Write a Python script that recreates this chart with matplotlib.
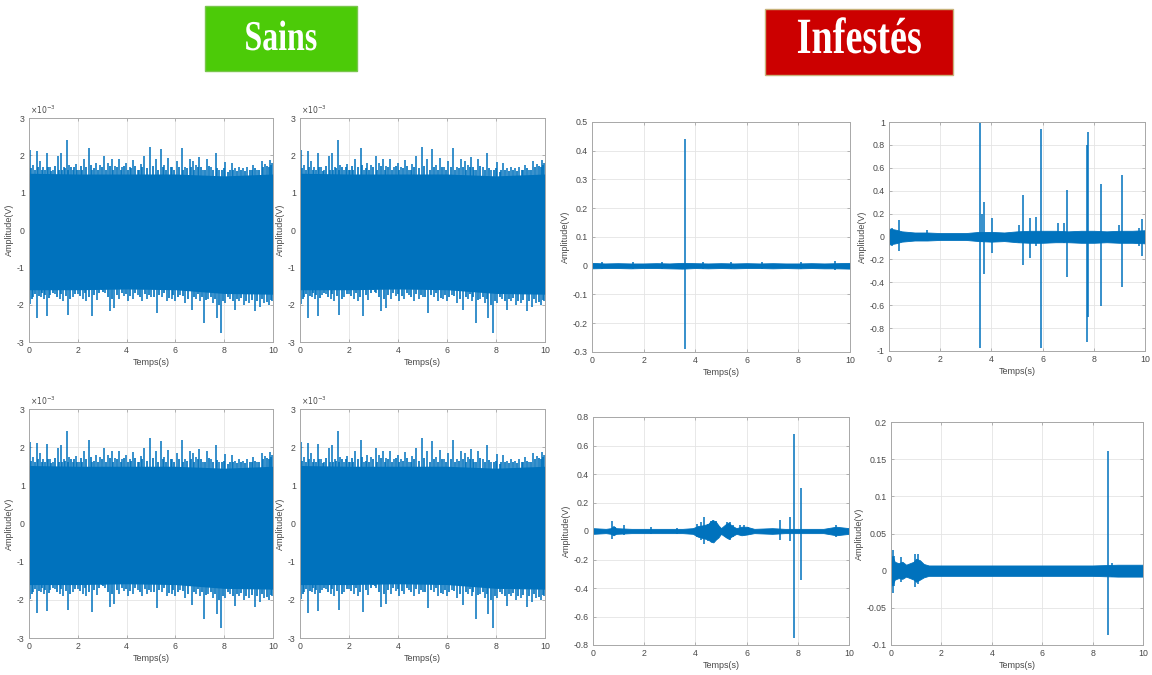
import matplotlib
matplotlib.use("Agg")
import matplotlib.pyplot as plt
from matplotlib import patheffects
from matplotlib.transforms import Affine2D
from matplotlib.patches import Rectangle
from matplotlib.ticker import FuncFormatter

plt.rcParams["font.family"] = ["Liberation Sans", "DejaVu Sans"]
plt.rcParams["axes.unicode_minus"] = False

W, H = 1152, 675
BLUE = "#0072BD"

# ---------------- healthy recordings (amplitude in 1e-3 V) ----------------
sain_core_t = [0, 2, 4, 6, 8, 10]
sain_core_hi = [1.52, 1.5, 1.5, 1.5, 1.45, 1.5]
sain_core_lo = [-1.6, -1.6, -1.58, -1.6, -1.7, -1.72]

# tallest positive excursions
sain_up_t = [0.04, 0.15, 0.31, 0.45, 0.58, 0.72, 0.85, 0.98, 1.17, 1.30, 1.42,
             1.54, 1.65, 1.80, 1.92, 2.05, 2.25, 2.47, 2.60, 2.75, 2.90, 3.09,
             3.22, 3.40, 3.52, 3.69, 3.82, 3.98, 4.12, 4.28, 4.45, 4.58, 4.73,
             4.96, 5.20, 5.40, 5.55, 5.71, 5.88, 6.05, 6.26, 6.40, 6.58, 6.72,
             6.85, 6.98, 7.12, 7.28, 7.45, 7.65, 7.80, 8.05, 8.30, 8.45, 8.62,
             8.78, 8.95, 9.20, 9.35, 9.53, 9.68, 9.88, 9.97]
sain_up_v = [2.14, 1.75, 2.11, 1.85, 1.70, 2.07, 1.70, 1.62, 1.98, 2.05, 1.70,
             2.42, 1.75, 1.62, 1.78, 1.62, 1.89, 2.20, 1.62, 1.80, 1.75, 1.98,
             1.80, 1.90, 1.72, 1.91, 1.70, 1.80, 1.70, 1.88, 1.62, 1.78, 1.98,
             2.23, 1.90, 2.17, 1.75, 1.93, 1.70, 1.86, 2.20, 1.70, 1.90, 1.85,
             1.75, 1.95, 1.62, 1.91, 1.68, 2.05, 1.60, 1.83, 1.80, 1.65, 1.68,
             1.65, 1.70, 1.75, 1.60, 1.85, 1.78, 1.88, 1.80]
# smaller positive excursions along the upper edge
sain_up2_t = [0.10, 0.23, 0.38, 0.52, 0.65, 0.78, 0.92, 1.06, 1.24, 1.36,
              1.48, 1.60, 1.72, 1.86, 1.98, 2.12, 2.18, 2.35, 2.54, 2.68,
              2.82, 2.98, 3.15, 3.30, 3.46, 3.60, 3.75, 3.90, 4.05, 4.20,
              4.36, 4.52, 4.65, 4.85, 5.08, 5.30, 5.48, 5.63, 5.80, 5.96,
              6.15, 6.33, 6.48, 6.65, 6.78, 6.92, 7.05, 7.20, 7.36, 7.55,
              7.72, 7.90, 7.98, 8.15, 8.22, 8.38, 8.53, 8.70, 8.86, 9.05,
              9.12, 9.28, 9.44, 9.60, 9.75, 9.82, 9.93]
sain_up2_v = [1.65, 1.60, 1.70, 1.62, 1.60, 1.68, 1.58, 1.72, 1.62, 1.60,
              1.65, 1.60, 1.68, 1.70, 1.60, 1.72, 1.60, 1.70, 1.75, 1.65,
              1.60, 1.70, 1.62, 1.72, 1.60, 1.68, 1.62, 1.72, 1.60, 1.65,
              1.72, 1.60, 1.70, 1.65, 1.72, 1.62, 1.70, 1.62, 1.68, 1.62,
              1.70, 1.62, 1.65, 1.68, 1.60, 1.70, 1.68, 1.60, 1.72, 1.62,
              1.66, 1.60, 1.65, 1.55, 1.62, 1.60, 1.58, 1.60, 1.58, 1.62,
              1.60, 1.65, 1.62, 1.70, 1.72, 1.68, 1.75]

# deepest negative excursions
sain_lo_t = [0.05, 0.18, 0.34, 0.50, 0.60, 0.72, 0.88, 1.08, 1.25, 1.40, 1.61,
             1.80, 2.00, 2.20, 2.35, 2.57, 2.78, 2.98, 3.12, 3.32, 3.50, 3.70,
             3.90, 4.05, 4.25, 4.45, 4.65, 4.85, 5.00, 5.23, 5.45, 5.65, 5.85,
             6.00, 6.20, 6.40, 6.67, 6.85, 7.00, 7.17, 7.35, 7.55, 7.69, 7.86,
             8.05, 8.25, 8.44, 8.62, 8.80, 9.00, 9.26, 9.45, 9.65, 9.85, 9.97]
sain_lo_v = [-1.99, -1.80, -2.35, -1.80, -1.85, -2.30, -1.75, -1.72, -1.85,
             -1.90, -2.27, -1.80, -1.72, -1.85, -1.90, -2.31, -1.88, -1.60,
             -1.70, -2.18, -2.10, -1.85, -1.78, -1.90, -1.85, -1.75, -1.90,
             -1.85, -1.80, -2.22, -1.80, -1.90, -1.85, -1.90, -1.75, -1.95,
             -2.13, -1.85, -1.90, -2.50, -1.85, -1.95, -2.36, -2.75, -1.95,
             -1.85, -2.15, -1.90, -2.00, -1.95, -2.18, -2.05, -1.95, -2.00,
             -1.90]
# smaller negative excursions along the lower edge
sain_lo2_t = [0.12, 0.26, 0.42, 0.55, 0.66, 0.80, 0.98, 1.16, 1.32, 1.50,
              1.70, 1.90, 2.10, 2.28, 2.46, 2.68, 2.88, 3.05, 3.22, 3.41,
              3.60, 3.80, 3.98, 4.15, 4.35, 4.55, 4.75, 4.92, 5.12, 5.34,
              5.55, 5.75, 5.92, 6.10, 6.30, 6.52, 6.76, 6.92, 7.08, 7.26,
              7.45, 7.62, 7.78, 7.95, 8.15, 8.35, 8.52, 8.70, 8.90, 9.12,
              9.35, 9.55, 9.75, 9.92]
sain_lo2_v = [-1.85, -1.72, -1.78, -1.70, -1.75, -1.82, -1.70, -1.80, -1.72,
              -1.78, -1.85, -1.72, -1.78, -1.70, -1.80, -1.75, -1.70, -1.65,
              -1.80, -1.85, -1.75, -1.70, -1.72, -1.78, -1.70, -1.80, -1.72,
              -1.75, -1.80, -1.75, -1.70, -1.82, -1.75, -1.80, -1.78, -1.85,
              -1.80, -1.72, -1.80, -1.88, -1.80, -1.85, -2.00, -1.90, -1.80,
              -1.90, -1.85, -1.82, -1.90, -1.88, -1.90, -1.85, -1.92, -1.88]

# ---------------- infested recordings (amplitude in V) ----------------
inf_a_band_t = [0, 0.5, 1, 1.5, 2, 2.5, 3, 3.5, 4, 4.5, 5, 5.5, 6, 6.5, 7,
                7.5, 8, 8.5, 9, 9.5, 10]
inf_a_band_hi = [0.010, 0.008, 0.009, 0.008, 0.008, 0.009, 0.008, 0.010,
                 0.009, 0.008, 0.009, 0.008, 0.009, 0.008, 0.009, 0.008,
                 0.008, 0.009, 0.008, 0.009, 0.010]
inf_a_band_lo = [-0.009, -0.008, -0.008, -0.009, -0.008, -0.008, -0.009,
                 -0.010, -0.008, -0.009, -0.008, -0.009, -0.008, -0.008,
                 -0.009, -0.008, -0.009, -0.008, -0.009, -0.009, -0.010]
inf_a_spk_t = [0.4, 1.6, 2.7, 3.6, 4.3, 5.4, 6.6, 8.1, 9.4]
inf_a_spk_hi = [0.014, 0.012, 0.013, 0.44, 0.014, 0.013, 0.012, 0.013, 0.015]
inf_a_spk_lo = [-0.012, -0.011, -0.012, -0.29, -0.013, -0.012, -0.011,
                -0.012, -0.014]

inf_b_band_t = [0, 0.25, 0.5, 1, 1.5, 2, 2.5, 3, 3.5, 4, 4.5, 5, 5.5, 6,
                6.5, 7, 7.5, 8, 8.5, 9, 9.5, 10]
inf_b_band_hi = [0.07, 0.06, 0.045, 0.035, 0.035, 0.03, 0.03, 0.03, 0.04,
                 0.04, 0.035, 0.045, 0.05, 0.05, 0.05, 0.045, 0.05, 0.05,
                 0.045, 0.05, 0.05, 0.055]
inf_b_band_lo = [-0.07, -0.06, -0.045, -0.035, -0.035, -0.03, -0.03, -0.03,
                 -0.04, -0.045, -0.04, -0.05, -0.055, -0.055, -0.05, -0.05,
                 -0.055, -0.055, -0.05, -0.055, -0.055, -0.06]
inf_b_spk_t = [0.10, 0.40, 1.50, 3.54, 3.62, 3.72, 4.03, 5.08, 5.25, 5.52,
               5.75, 5.95, 6.62, 6.85, 6.96, 7.73, 7.79, 8.27, 8.99, 9.12,
               9.75, 9.90]
inf_b_spk_hi = [0.07, 0.14, 0.06, 1.00, 0.20, 0.30, 0.16, 0.10, 0.36, 0.16,
                0.17, 0.94, 0.12, 0.12, 0.41, 0.80, 0.91, 0.46, 0.10, 0.54,
                0.07, 0.15]
inf_b_spk_lo = [-0.08, -0.13, -0.03, -0.97, -0.05, -0.33, -0.14, -0.06,
                -0.25, -0.19, -0.08, -0.97, -0.05, -0.06, -0.35, -0.92,
                -0.70, -0.61, -0.06, -0.44, -0.08, -0.17]

inf_c_band_t = [0, 0.5, 0.7, 0.8, 0.9, 1.5, 2, 2.5, 3, 3.5, 3.9, 4.1, 4.3,
                4.5, 4.6, 4.7, 4.8, 4.9, 5.0, 5.2, 5.3, 5.4, 5.6, 5.8, 6.0,
                6.3, 7, 7.5, 8, 8.5, 9, 9.5, 10]
inf_c_band_hi = [0.02, 0.015, 0.02, 0.035, 0.02, 0.015, 0.015, 0.015, 0.015,
                 0.015, 0.02, 0.035, 0.04, 0.05, 0.07, 0.075, 0.065, 0.04,
                 0.02, 0.05, 0.06, 0.04, 0.02, 0.03, 0.03, 0.015, 0.02, 0.015,
                 0.015, 0.015, 0.015, 0.03, 0.02]
inf_c_band_lo = [-0.02, -0.015, -0.02, -0.03, -0.02, -0.015, -0.015, -0.015,
                 -0.015, -0.015, -0.02, -0.04, -0.05, -0.06, -0.075, -0.08,
                 -0.06, -0.045, -0.02, -0.045, -0.055, -0.04, -0.02, -0.03,
                 -0.025, -0.015, -0.02, -0.015, -0.015, -0.015, -0.015,
                 -0.03, -0.02]
inf_c_spk_t = [0.75, 0.85, 1.20, 2.25, 3.30, 4.05, 4.20, 4.35, 4.50, 4.60,
               4.70, 4.80, 4.90, 5.25, 5.35, 5.45, 5.75, 5.90, 6.05, 7.29,
               7.70, 7.84, 8.12, 9.50]
inf_c_spk_hi = [0.07, 0.03, 0.04, 0.03, 0.02, 0.05, 0.06, 0.10, 0.05, 0.07,
                0.08, 0.07, 0.04, 0.06, 0.06, 0.04, 0.04, 0.04, 0.03, 0.08,
                0.10, 0.68, 0.30, 0.04]
inf_c_spk_lo = [-0.055, -0.03, -0.025, -0.02, -0.02, -0.04, -0.06, -0.09,
                -0.07, -0.06, -0.07, -0.06, -0.04, -0.05, -0.06, -0.04,
                -0.03, -0.03, -0.025, -0.06, -0.07, -0.75, -0.345, -0.04]

inf_d_band_t = [0, 0.05, 0.15, 0.3, 0.45, 0.6, 0.9, 1.0, 1.15, 1.3, 1.5, 2,
                3, 4, 5, 6, 7, 8, 9, 10]
inf_d_band_hi = [0.012, 0.02, 0.012, 0.01, 0.012, 0.008, 0.012, 0.016,
                 0.014, 0.009, 0.007, 0.007, 0.007, 0.007, 0.007, 0.007,
                 0.007, 0.007, 0.008, 0.008]
inf_d_band_lo = [-0.012, -0.02, -0.012, -0.01, -0.011, -0.008, -0.012,
                 -0.015, -0.012, -0.009, -0.007, -0.007, -0.007, -0.007,
                 -0.007, -0.007, -0.007, -0.007, -0.008, -0.008]
inf_d_spk_t = [0.07, 0.12, 0.38, 0.95, 1.08, 1.20, 8.61, 8.75]
inf_d_spk_hi = [0.028, 0.02, 0.018, 0.022, 0.022, 0.012, 0.161, 0.010]
inf_d_spk_lo = [-0.030, -0.02, -0.015, -0.022, -0.018, -0.010, -0.086, -0.008]

time_ticks = [0, 2, 4, 6, 8, 10]
sain_yticks = [-3, -2, -1, 0, 1, 2, 3]
inf_a_yticks = [-0.3, -0.2, -0.1, 0, 0.1, 0.2, 0.3, 0.4, 0.5]
inf_b_yticks = [-1, -0.8, -0.6, -0.4, -0.2, 0, 0.2, 0.4, 0.6, 0.8, 1]
inf_c_yticks = [-0.8, -0.6, -0.4, -0.2, 0, 0.2, 0.4, 0.6, 0.8]
inf_d_yticks = [-0.1, -0.05, 0, 0.05, 0.1, 0.15, 0.2]

fig = plt.figure(figsize=(W / 100, H / 100), dpi=100)
fig.patch.set_facecolor("white")


def make_axes(left, top, right, bottom):
    return fig.add_axes([left / W, 1 - bottom / H, (right - left) / W,
                         (bottom - top) / H])


def style(ax, yticks):
    ax.set_xlim(0, 10)
    ax.set_ylim(yticks[0], yticks[-1])
    ax.set_xticks(time_ticks)
    ax.set_yticks(yticks)
    fmt = FuncFormatter(lambda v, p: "%g" % round(v, 4))
    ax.xaxis.set_major_formatter(fmt)
    ax.yaxis.set_major_formatter(fmt)
    ax.tick_params(direction="in", length=2.5, width=0.5, labelsize=6.3,
                   color="#9a9a9a", labelcolor="#484848", top=True,
                   right=True, pad=3)
    ax.grid(True, color="#e4e4e4", lw=0.6)
    ax.set_axisbelow(True)
    for s in ax.spines.values():
        s.set_color("#a8a8a8")
        s.set_linewidth(0.7)
    ax.set_xlabel("Temps(s)", fontsize=6.5, color="#484848", labelpad=2)
    ax.set_ylabel("Amplitude(V)", fontsize=6.5, color="#484848", labelpad=2)


def draw_sain(ax):
    ax.fill_between(sain_core_t, sain_core_lo, sain_core_hi, color=BLUE, lw=0)
    ax.vlines(sain_up2_t, 0, sain_up2_v, color=BLUE, lw=1.2)
    ax.vlines(sain_lo2_t, sain_lo2_v, 0, color=BLUE, lw=1.2)
    ax.vlines(sain_up_t, 0, sain_up_v, color=BLUE, lw=1.1)
    ax.vlines(sain_lo_t, sain_lo_v, 0, color=BLUE, lw=1.1)
    style(ax, sain_yticks)
    ax.text(0.005, 1.008, r"$\times10^{-3}$", transform=ax.transAxes,
            fontsize=5.5, color="#484848", ha="left", va="bottom")


def draw_inf(ax, bt, bhi, blo, st, shi, slo, yticks):
    ax.fill_between(bt, blo, bhi, color=BLUE, lw=0.6, edgecolor=BLUE)
    ax.vlines(st, slo, shi, color=BLUE, lw=1.1)
    style(ax, yticks)


# top row
draw_sain(make_axes(29, 118, 273, 342))
draw_sain(make_axes(300, 118, 545, 342))
draw_inf(make_axes(592, 122, 850, 352), inf_a_band_t, inf_a_band_hi,
         inf_a_band_lo, inf_a_spk_t, inf_a_spk_hi, inf_a_spk_lo, inf_a_yticks)
draw_inf(make_axes(889, 122, 1145, 351), inf_b_band_t, inf_b_band_hi,
         inf_b_band_lo, inf_b_spk_t, inf_b_spk_hi, inf_b_spk_lo, inf_b_yticks)
# bottom row
draw_sain(make_axes(29, 409, 273, 638))
draw_sain(make_axes(300, 409, 545, 638))
draw_inf(make_axes(593, 417, 849, 645), inf_c_band_t, inf_c_band_hi,
         inf_c_band_lo, inf_c_spk_t, inf_c_spk_hi, inf_c_spk_lo, inf_c_yticks)
draw_inf(make_axes(891, 422, 1143, 645), inf_d_band_t, inf_d_band_hi,
         inf_d_band_lo, inf_d_spk_t, inf_d_spk_hi, inf_d_spk_lo, inf_d_yticks)


class VStretch(patheffects.AbstractPathEffect):
    """Draw text glyphs stretched vertically about their baseline."""

    def __init__(self, sy):
        super().__init__()
        self.sy = sy

    def draw_path(self, renderer, gc, tpath, affine, rgbFace=None):
        ox, oy = affine.transform((0, 0))
        aff = affine + Affine2D().translate(-ox, -oy).scale(1, self.sy).translate(ox, oy)
        renderer.draw_path(gc, tpath, aff, rgbFace)


def header(x0, y0, x1, y1, face, edge, label, size, baseline):
    fig.patches.append(Rectangle((x0 / W, 1 - y1 / H), (x1 - x0) / W,
                                 (y1 - y0) / H, transform=fig.transFigure,
                                 facecolor=face, edgecolor=edge, lw=1.0))
    fig.text((x0 + x1) / 2 / W, 1 - baseline / H, label, color="white",
             fontsize=size, fontweight="bold", family="Liberation Serif",
             ha="center", va="baseline",
             path_effects=[VStretch(1.33)])


header(205, 6, 357, 71, "#4ccb08", "#79c64c", "Sains", 23, 50)
header(765, 9, 953, 75, "#cc0000", "#c8b27a", "Infestés", 27.5, 53)

fig.savefig("out.png", dpi=100, facecolor="white")
